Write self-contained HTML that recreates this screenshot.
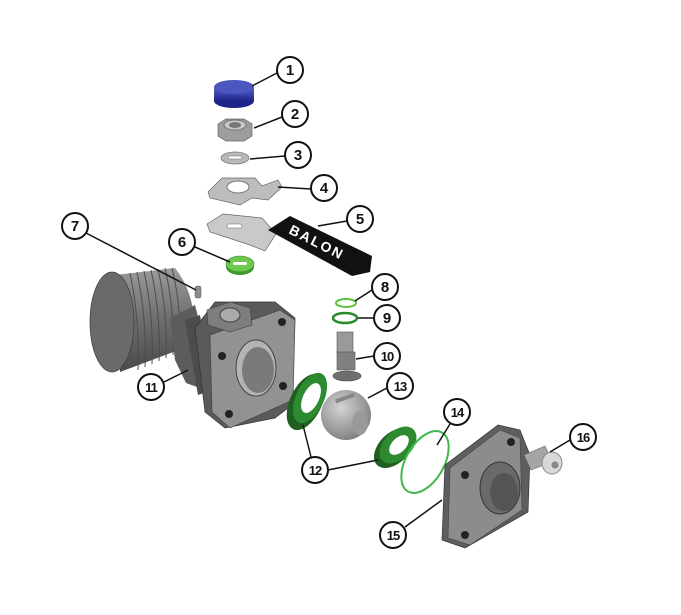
<!DOCTYPE html>
<html><head><meta charset="utf-8"><style>
html,body{margin:0;padding:0;background:#fff;}
svg{display:block}
text{font-family:"Liberation Sans",sans-serif;font-weight:bold;}
</style></head><body>
<svg width="681" height="615" viewBox="0 0 681 615" xmlns="http://www.w3.org/2000/svg">
<defs>
<linearGradient id="gb" x1="0" y1="0" x2="0" y2="1"><stop offset="0" stop-color="#5a64c8"/><stop offset="1" stop-color="#1d238a"/></linearGradient>
<linearGradient id="gcyl" x1="0" y1="0" x2="0" y2="1"><stop offset="0" stop-color="#9a9a9a"/><stop offset="0.5" stop-color="#6e6e6e"/><stop offset="1" stop-color="#4a4a4a"/></linearGradient>
<radialGradient id="gball" cx="0.4" cy="0.35" r="0.7"><stop offset="0" stop-color="#d4d4d4"/><stop offset="1" stop-color="#7d7d7d"/></radialGradient>
</defs>

<ellipse cx="234" cy="101" rx="20" ry="7" fill="#1d238a"/>
<rect x="214" y="87" width="40" height="14" fill="url(#gb)"/>
<ellipse cx="234" cy="87" rx="20" ry="7" fill="#4c56c0"/>
<polygon points="218,124 226,119 244,119 252,124 252,136 244,141 226,141 218,136" fill="#9d9d9d" stroke="#666" stroke-width="0.7"/>
<ellipse cx="235" cy="125" rx="11" ry="5" fill="#c8c8c8" stroke="#777"/>
<ellipse cx="235" cy="125" rx="6" ry="3" fill="#777"/>
<ellipse cx="235" cy="158" rx="14" ry="6" fill="#b9b9b9" stroke="#777" stroke-width="0.7"/>
<rect x="228" y="156" width="14" height="3" rx="1.5" fill="#fff" stroke="#666" stroke-width="0.5"/>
<path d="M208,192 L222,178 L255,178 L262,186 L278,180 L282,187 L268,200 L252,198 L240,205 L210,198 Z" fill="#bdbdbd" stroke="#666" stroke-width="0.7"/>
<ellipse cx="238" cy="187" rx="11" ry="6" fill="#fff" stroke="#777"/>
<path d="M207,224 L223,214 L262,218 L276,234 L265,251 L250,245 L210,232 Z" fill="#c9c9c9" stroke="#666" stroke-width="0.7"/>
<rect x="227" y="224" width="15" height="4" rx="2" fill="#fff" stroke="#666" stroke-width="0.6"/>
<path d="M268,230 L290,216 L372,256 L370,272 L352,276 Z" fill="#111"/>
<text x="0" y="0" font-size="14" fill="#fff" transform="translate(288,233) rotate(27)" letter-spacing="2">BALON</text>
<ellipse cx="240" cy="267" rx="14" ry="8" fill="#3a9a2a"/>
<ellipse cx="240" cy="264" rx="14" ry="8" fill="#6cc84e" stroke="#3a8a2a" stroke-width="0.6"/>
<rect x="233" y="262" width="14" height="3" rx="1.5" fill="#fff"/>
<rect x="195" y="286" width="6" height="12" rx="2" fill="#8e8e8e" stroke="#555" stroke-width="0.5"/>

<path d="M115,275 L175,268 Q200,300 192,345 L120,372 Z" fill="url(#gcyl)"/>
<ellipse cx="112" cy="322" rx="22" ry="50" fill="#6a6a6a" stroke="#3a3a3a" stroke-width="0.7"/>
<g stroke="#4d4d4d" stroke-width="1" fill="none">
<path d="M130,273 Q140,322 138,370"/><path d="M137,272 Q147,320 145,367"/><path d="M144,271 Q154,318 152,364"/><path d="M151,270 Q161,316 159,361"/><path d="M158,269 Q168,314 166,358"/><path d="M165,268 Q175,312 173,355"/><path d="M172,268 Q182,310 180,352"/>
</g>
<path d="M170,318 L195,305 L205,345 L205,390 L186,383 L175,360 Z" fill="#5c5c5c"/>
<path d="M185,320 L200,315 L212,390 L198,395 Z" fill="#4c4c4c"/>
<path d="M195,328 L215,302 L275,302 L295,318 L292,405 L275,418 L225,428 L205,412 Z" fill="#5a5a5a" stroke="#333" stroke-width="0.7"/>
<path d="M210,335 L280,310 L295,320 L293,400 L230,428 L212,412 Z" fill="#929292" stroke="#444" stroke-width="0.7"/>
<path d="M207,310 L230,302 L250,308 L252,325 L230,332 L208,325 Z" fill="#7d7d7d" stroke="#444" stroke-width="0.6"/>
<ellipse cx="230" cy="315" rx="10" ry="7" fill="#aaa" stroke="#444"/>
<ellipse cx="256" cy="368" rx="20" ry="28" fill="#b4b4b4" stroke="#444"/>
<ellipse cx="258" cy="370" rx="16" ry="23" fill="#7a7a7a"/>
<circle cx="282" cy="322" r="4" fill="#222"/><circle cx="222" cy="356" r="4" fill="#222"/><circle cx="283" cy="386" r="4" fill="#222"/><circle cx="229" cy="414" r="4" fill="#222"/>

<ellipse cx="346" cy="303" rx="10" ry="4" fill="none" stroke="#5fc040" stroke-width="2"/>
<ellipse cx="345" cy="318" rx="12" ry="5" fill="none" stroke="#2a8a28" stroke-width="2.5"/>
<rect x="337" y="332" width="16" height="22" fill="#9a9a9a" stroke="#555" stroke-width="0.6"/>
<rect x="337" y="352" width="18" height="18" fill="#808080" stroke="#555" stroke-width="0.6"/>
<ellipse cx="347" cy="376" rx="14" ry="5" fill="#6e6e6e" stroke="#444" stroke-width="0.6"/>
<ellipse cx="306" cy="402" rx="16" ry="30" fill="#1f5f1f" transform="rotate(25 306 402)"/>
<ellipse cx="310" cy="398" rx="14" ry="27" fill="#2e8a30" transform="rotate(25 310 398)"/>
<ellipse cx="311" cy="398" rx="8" ry="16" fill="#fff" transform="rotate(25 311 398)"/>
<circle cx="346" cy="415" r="25" fill="url(#gball)"/>
<ellipse cx="360" cy="423" rx="8" ry="12" fill="#999"/>
<rect x="335" y="396" width="20" height="4" fill="#888" transform="rotate(-20 345 398)"/>
<ellipse cx="394" cy="448" rx="15" ry="24" fill="#1f5f1f" transform="rotate(45 394 448)"/>
<ellipse cx="398" cy="445" rx="14" ry="22" fill="#2e8a30" transform="rotate(45 398 445)"/>
<ellipse cx="399" cy="445" rx="7" ry="12" fill="#fff" transform="rotate(45 399 445)"/>
<ellipse cx="425" cy="462" rx="19" ry="34" fill="none" stroke="#3fb84a" stroke-width="2" transform="rotate(30 425 462)"/>
<path d="M445,465 L498,425 L520,430 L530,455 L528,512 L465,548 L442,540 Z" fill="#5e5e5e" stroke="#333" stroke-width="0.7"/>
<path d="M450,468 L500,430 L520,438 L522,510 L470,545 L448,538 Z" fill="#8c8c8c" stroke="#444" stroke-width="0.6"/>
<ellipse cx="500" cy="488" rx="20" ry="26" fill="#6a6a6a" stroke="#333"/>
<ellipse cx="504" cy="492" rx="14" ry="19" fill="#555"/>
<circle cx="511" cy="442" r="4" fill="#222"/><circle cx="465" cy="475" r="4" fill="#222"/><circle cx="465" cy="535" r="4" fill="#222"/>
<path d="M524,455 L545,446 L552,462 L531,470 Z" fill="#a5a5a5" stroke="#666" stroke-width="0.6"/>
<ellipse cx="552" cy="463" rx="10" ry="11" fill="#d8d8d8" stroke="#888"/>
<circle cx="555" cy="465" r="3.5" fill="#888"/>

<g stroke="#111" stroke-width="1.5" fill="none">
<line x1="277" y1="73" x2="252" y2="86"/>
<line x1="282" y1="117" x2="254" y2="128"/>
<line x1="285" y1="156" x2="250" y2="159"/>
<line x1="311" y1="189" x2="278" y2="187"/>
<line x1="347" y1="221" x2="318" y2="226"/>
<line x1="195" y1="247" x2="230" y2="262"/>
<line x1="86" y1="233" x2="196" y2="290"/>
<line x1="372" y1="290" x2="355" y2="301"/>
<line x1="374" y1="318" x2="358" y2="318"/>
<line x1="374" y1="356" x2="356" y2="359"/>
<line x1="164" y1="382" x2="188" y2="370"/>
<line x1="311" y1="457" x2="303" y2="425"/>
<line x1="328" y1="470" x2="378" y2="460"/>
<line x1="387" y1="388" x2="368" y2="398"/>
<line x1="450" y1="424" x2="437" y2="445"/>
<line x1="405" y1="527" x2="442" y2="500"/>
<line x1="570" y1="440" x2="550" y2="452"/>
</g>
<g stroke="#111" stroke-width="2" fill="#fff">
<circle cx="290" cy="70" r="13"/><circle cx="295" cy="114" r="13"/><circle cx="298" cy="155" r="13"/><circle cx="324" cy="188" r="13"/><circle cx="360" cy="219" r="13"/><circle cx="182" cy="242" r="13"/><circle cx="75" cy="226" r="13"/><circle cx="385" cy="287" r="13"/><circle cx="387" cy="318" r="13"/><circle cx="387" cy="356" r="13"/><circle cx="151" cy="387" r="13"/><circle cx="315" cy="470" r="13"/><circle cx="400" cy="386" r="13"/><circle cx="457" cy="412" r="13"/><circle cx="393" cy="535" r="13"/><circle cx="583" cy="437" r="13"/>
</g>
<g font-size="15" fill="#111" text-anchor="middle">
<text x="290" y="75">1</text><text x="295" y="119">2</text><text x="298" y="160">3</text><text x="324" y="193">4</text><text x="360" y="224">5</text><text x="182" y="247">6</text><text x="75" y="231">7</text><text x="385" y="292">8</text><text x="387" y="323">9</text>
</g>
<g font-size="13" fill="#111" text-anchor="middle" letter-spacing="-1">
<text x="387" y="361">10</text><text x="151" y="392">11</text><text x="315" y="475">12</text><text x="400" y="391">13</text><text x="457" y="417">14</text><text x="393" y="540">15</text><text x="583" y="442">16</text>
</g>
</svg>
</body></html>
